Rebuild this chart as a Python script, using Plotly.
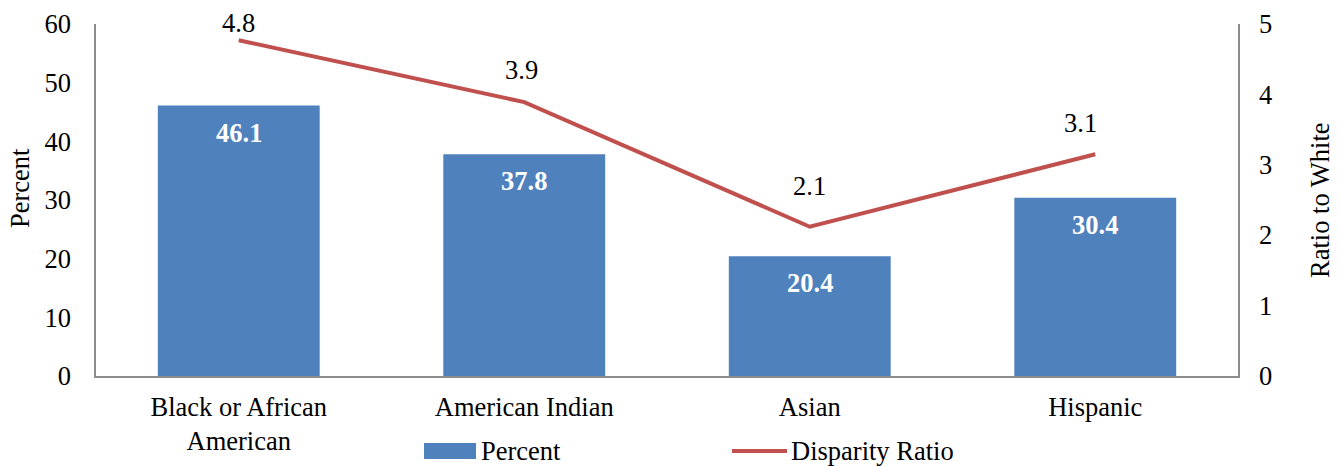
import plotly.graph_objects as go

categories = ["Black or African<br>American", "American Indian", "Asian", "Hispanic"]
percent = [46.1, 37.8, 20.4, 30.4]
ratio = [4.77, 3.89, 2.12, 3.15]
ratio_labels = ["4.8", "3.9", "2.1", "3.1"]

FONT = "Liberation Serif"
FS = 26.5
BAR_C = "#4F81BD"
LINE_C = "#C0504D"
AX_C = "#8C8C8C"

# plot-area geometry (pixels)
L, R, T, B = 96, 103, 24, 90
W, H = 1341, 466
PW, PH = W - L - R, H - T - B

def px_x(x):
    return (x - L) / PW

def px_y(y):
    return (H - B - y) / PH

fig = go.Figure()
fig.add_trace(go.Bar(x=categories, y=percent, name="Percent", marker_color=BAR_C,
                     marker_line_width=0, showlegend=False))
fig.add_trace(go.Scatter(x=categories, y=ratio, name="Disparity Ratio", mode="lines",
                         line=dict(color=LINE_C, width=4), yaxis="y2", showlegend=False))

for c, v in zip(categories, percent):
    fig.add_annotation(x=c, y=v, text=f"<b>{v:.1f}</b>", showarrow=False, yshift=-27,
                       font=dict(family=FONT, size=FS, color="white"))

label_yshift = [17, 32, 41, 31]
label_xshift = [0, -3, 0, -15]
for c, v, t, ys, xs in zip(categories, ratio, ratio_labels, label_yshift, label_xshift):
    fig.add_annotation(x=c, y=v, yref="y2", text=t, showarrow=False, yshift=ys, xshift=xs,
                       font=dict(family=FONT, size=FS, color="black"))

# axis titles
fig.add_annotation(xref="paper", yref="paper", x=px_x(20), y=px_y(188), text="Percent",
                   textangle=-90, showarrow=False, xanchor="center", yanchor="middle",
                   font=dict(family=FONT, size=FS))
fig.add_annotation(xref="paper", yref="paper", x=px_x(1320), y=px_y(200), text="Ratio to White",
                   textangle=-90, showarrow=False, xanchor="center", yanchor="middle",
                   font=dict(family=FONT, size=FS))

# legend (drawn manually to match the wide key symbols)
fig.add_shape(type="rect", xref="paper", yref="paper", x0=px_x(424), x1=px_x(476),
              y0=px_y(459), y1=px_y(443), fillcolor=BAR_C, line_width=0)
fig.add_shape(type="line", xref="paper", yref="paper", x0=px_x(732), x1=px_x(787),
              y0=px_y(451), y1=px_y(451), line=dict(color=LINE_C, width=4))
fig.add_annotation(xref="paper", yref="paper", x=px_x(479), y=px_y(451), text="Percent",
                   xanchor="left", yanchor="middle", showarrow=False,
                   font=dict(family=FONT, size=FS))
fig.add_annotation(xref="paper", yref="paper", x=px_x(789), y=px_y(451), text="Disparity Ratio",
                   xanchor="left", yanchor="middle", showarrow=False,
                   font=dict(family=FONT, size=FS))

fig.update_layout(
    width=W, height=H,
    margin=dict(l=L, r=R, t=T, b=B, autoexpand=False),
    plot_bgcolor="white", paper_bgcolor="white",
    font=dict(family=FONT, size=FS, color="black"),
    bargap=0.433,
    showlegend=False,
    xaxis=dict(showline=True, linecolor=AX_C, linewidth=1.5, ticks="", showgrid=False,
               tickfont=dict(size=FS), ticklabelstandoff=6),
    yaxis=dict(range=[0, 60], dtick=10,
               showline=True, linecolor=AX_C, linewidth=1.5, showgrid=False,
               ticks="", zeroline=False, tickfont=dict(size=FS), ticklabelstandoff=18),
    yaxis2=dict(range=[0, 5], dtick=1,
                overlaying="y", side="right", showline=True, linecolor=AX_C,
                linewidth=1.5, showgrid=False, ticks="", zeroline=False,
                tickfont=dict(size=FS), ticklabelstandoff=14),
)

fig.write_html("out.html", config={"displayModeBar": False},
               post_script="document.body.style.margin='0';")
